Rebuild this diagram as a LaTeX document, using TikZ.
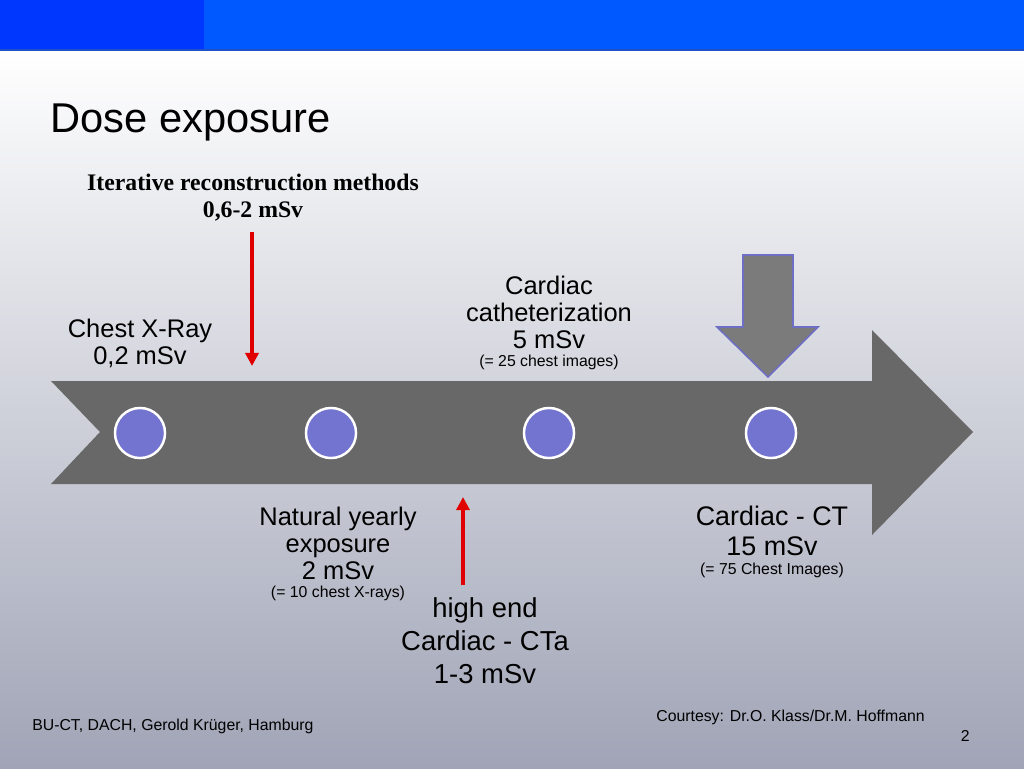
\documentclass[tikz,border=0pt]{standalone}
\usepackage{fontspec}
\setmainfont{Liberation Serif}
\setsansfont{Liberation Sans}
\usetikzlibrary{arrows.meta, positioning}
\definecolor{barleft}{RGB}{0,55,255}
\definecolor{barright}{RGB}{0,88,255}
\definecolor{barline}{RGB}{30,80,200}
\definecolor{bgbot}{RGB}{160,164,182}
\definecolor{tlgray}{RGB}{104,104,104}
\definecolor{ptgray}{RGB}{123,123,123}
\definecolor{ptedge}{RGB}{110,110,195}
\definecolor{dotblue}{RGB}{115,115,208}
\definecolor{mark}{RGB}{225,0,0}

\begin{document}
\begin{tikzpicture}[x=0.02cm, y=-0.02cm, font=\sffamily,
  dot/.style={circle, fill=dotblue, draw=white, line width=1.4pt, minimum size=28.5pt, inner sep=0pt},
  lab/.style={align=center, inner sep=0pt, font=\fontsize{14.5}{15.4}\selectfont\sffamily},
  biglab/.style={align=center, inner sep=0pt, font=\fontsize{15.3}{17}\selectfont\sffamily},
  note/.style={inner sep=0pt, font=\fontsize{9}{10}\selectfont\sffamily},
  redarrow/.style={-{Triangle[length=7.5pt, width=7.5pt]}, draw=mark, line width=2.1pt}]
\useasboundingbox (0,0) rectangle (1024,768);
\shade[top color=white, bottom color=bgbot] (0,50) rectangle (1024,768);
\fill[barright] (0,0) rectangle (1024,50);
\fill[barleft] (0,0) rectangle (204,50);
\draw[barline, line width=0.6pt] (0,50) -- (1024,50);
\node[anchor=base west, inner sep=0pt, font=\fontsize{23.7}{28}\selectfont\sffamily] (title) at (50,132) {Dose exposure};
\fill[tlgray] (51,381) -- (872,381) -- (872,330) -- (973,432) -- (872,535) -- (872,484) -- (51,484) -- (100,432) -- cycle;
\filldraw[fill=ptgray, draw=ptedge, line width=0.9pt] (743,255) -- (793,255) -- (793,327) -- (818,327) -- (768,377) -- (717,327) -- (743,327) -- cycle;
\node[dot] (d1) at (140,433) {};
\node[dot] (d2) at (331,433) {};
\node[dot] (d3) at (549,433) {};
\node[dot] (d4) at (771,433) {};
\node[align=center, inner sep=0pt, font=\fontsize{13.5}{15.4}\selectfont\rmfamily\bfseries] (iter) at (253,198) {Iterative reconstruction methods\\0,6-2 mSv};
\node[lab] (xray) at (140,343) {Chest X-Ray\\0,2 mSv};
\node[lab] (cath) at (549,312) {Cardiac\\catheterization\\5 mSv};
\node[note, below=3.5pt of cath] (cathnote) {(= 25 chest images)};
\node[lab] (natural) at (338,543) {Natural yearly\\exposure\\2 mSv};
\node[note, below=3.5pt of natural] (naturalnote) {(= 10 chest X-rays)};
\node[biglab] (ct) at (772,531) {Cardiac - CT\\15 mSv};
\node[note, below=3.5pt of ct] (ctnote) {(= 75 Chest Images)};
\node[align=center, inner sep=0pt, font=\fontsize{15.6}{18.8}\selectfont\sffamily] (highend) at (485,641) {high end\\Cardiac - CTa\\1-3 mSv};
\coordinate (iterend) at (252,366);
\coordinate (ctatail) at (463,585);
\coordinate (ctahead) at (463,497);
\draw[redarrow, shorten <=6pt] (iter.south -| iterend) -- (iterend);
\draw[redarrow] (ctatail) -- (ctahead);
\node[note, anchor=base west] (footer) at (32,730) {BU-CT, DACH, Gerold Krüger, Hamburg};
\node[note, anchor=base west] (courtesy) at (656,721) {Courtesy: Dr.O. Klass/Dr.M. Hoffmann};
\node[note, anchor=base east] (page) at (970,741) {2};
\end{tikzpicture}
\end{document}
